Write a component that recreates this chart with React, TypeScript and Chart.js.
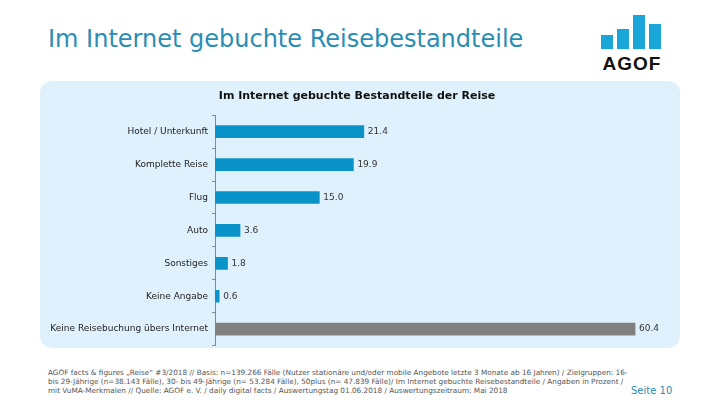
import React, { useEffect, useRef } from "react";
import { Chart, registerables } from "chart.js";

Chart.register(...registerables);

const categories = [
  "Hotel / Unterkunft",
  "Komplette Reise",
  "Flug",
  "Auto",
  "Sonstiges",
  "Keine Angabe",
  "Keine Reisebuchung übers Internet",
];
const values = [21.4, 19.9, 15.0, 3.6, 1.8, 0.6, 60.4];
const barColors = ["#0993c8", "#0993c8", "#0993c8", "#0993c8", "#0993c8", "#0993c8", "#808080"];
const pageTitle = "Im Internet gebuchte Reisebestandteile";
const chartTitle = "Im Internet gebuchte Bestandteile der Reise";
const footerLines = [
  "AGOF facts & figures „Reise“ #3/2018 // Basis: n=139.266 Fälle (Nutzer stationäre und/oder mobile Angebote letzte 3 Monate ab 16 Jahren) / Zielgruppen: 16-",
  "bis 29-Jährige (n=38.143 Fälle), 30- bis 49-Jährige (n= 53.284 Fälle), 50plus (n= 47.839 Fälle)/ Im Internet gebuchte Reisebestandteile / Angaben in Prozent /",
  "mit VuMA-Merkmalen // Quelle: AGOF e. V. / daily digital facts / Auswertungstag 01.06.2018 / Auswertungszeitraum: Mai 2018",
];
const pageLabel = "Seite 10";
const logoBars = [14, 20, 34, 25];

const FONT = "'DejaVu Sans', Verdana, sans-serif";

const valueLabelPlugin = {
  id: "valueLabels",
  afterDatasetsDraw(chart: any) {
    const ctx = chart.ctx;
    const meta = chart.getDatasetMeta(0);
    ctx.save();
    ctx.font = `9px ${FONT}`;
    ctx.fillStyle = "#333";
    ctx.textBaseline = "middle";
    ctx.textAlign = "left";
    meta.data.forEach((bar: any, i: number) => {
      ctx.fillText(values[i].toFixed(1), bar.x + 4, bar.y);
    });
    ctx.restore();
  },
};

function BarChart() {
  const ref = useRef<HTMLCanvasElement | null>(null);
  useEffect(() => {
    if (!ref.current) return;
    const chart = new Chart(ref.current, {
      type: "bar",
      data: {
        labels: categories,
        datasets: [
          {
            data: values,
            backgroundColor: barColors,
            barThickness: 12,
            borderWidth: 0,
          },
        ],
      },
      options: {
        indexAxis: "y",
        animation: false,
        responsive: false,
        maintainAspectRatio: false,
        layout: { padding: { left: 0, right: 6, top: 0, bottom: 4 } },
        plugins: {
          legend: { display: false },
          tooltip: { enabled: false },
          title: {
            display: true,
            text: chartTitle,
            color: "#111",
            font: { family: FONT, size: 11, weight: "bold" },
            padding: { top: 9, bottom: 12 },
          },
        },
        scales: {
          x: {
            display: false,
            min: 0,
            max: 66,
          },
          y: {
            afterFit(scale: any) {
              scale.width = 175;
            },
            grid: {
              display: true,
              drawOnChartArea: false,
              drawTicks: true,
              tickLength: 3,
              color: "#7d8c99",
              offset: true,
            },
            border: { display: true, color: "#7d8c99", width: 1 },
            ticks: {
              color: "#222",
              padding: 4,
              font: { family: FONT, size: 9 },
            },
          },
        },
      },
      plugins: [valueLabelPlugin],
    });
    return () => chart.destroy();
  }, []);
  return <canvas ref={ref} width={640} height={274} style={{ position: "absolute", left: 0, top: 0 }} />;
}

export default function App() {
  return (
    <div
      style={{
        position: "absolute",
        left: 0,
        top: 0,
        width: 720,
        height: 405,
        background: "#fff",
        overflow: "hidden",
        fontFamily: FONT,
      }}
    >
      <div
        style={{
          position: "absolute",
          left: 48,
          top: 23,
          fontSize: 24,
          color: "#2a8db3",
          whiteSpace: "nowrap",
          lineHeight: "32px",
        }}
      >
        {pageTitle}
      </div>
      {/* logo */}
      <div style={{ position: "absolute", left: 601, top: 14, width: 62, height: 35 }}>
        {logoBars.map((h, i) => (
          <div
            key={i}
            style={{
              position: "absolute",
              left: i * 16,
              bottom: 0,
              width: 12,
              height: h,
              background: "#1aa6d9",
            }}
          />
        ))}
      </div>
      <div
        style={{
          position: "absolute",
          left: 599,
          top: 53,
          width: 66,
          textAlign: "center",
          fontSize: 19,
          fontWeight: "bold",
          color: "#111",
          fontFamily: "'Liberation Sans', Arial, sans-serif",
          letterSpacing: 1,
          lineHeight: "22px",
        }}
      >
        AGOF
      </div>
      {/* panel */}
      <div
        style={{
          position: "absolute",
          left: 40,
          top: 81,
          width: 640,
          height: 267,
          background: "#dff1fc",
          borderRadius: 12,
        }}
      >
        <BarChart />
      </div>
      <div
        style={{
          position: "absolute",
          left: 48,
          top: 368,
          fontSize: 7.3,
          lineHeight: "9px",
          color: "#555",
          whiteSpace: "nowrap",
        }}
      >
        {footerLines.map((l, i) => (
          <div key={i}>{l}</div>
        ))}
      </div>
      <div
        style={{
          position: "absolute",
          left: 631,
          top: 384,
          fontSize: 10,
          lineHeight: "14px",
          color: "#2a8db3",
          whiteSpace: "nowrap",
        }}
      >
        {pageLabel}
      </div>
    </div>
  );
}
